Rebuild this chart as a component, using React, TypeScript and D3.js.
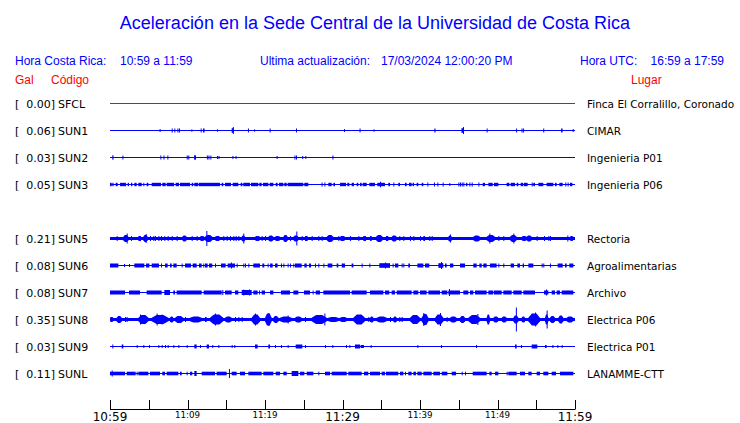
import React from "react";
import * as d3 from "d3";

// ---------- DATA ----------
const title = "Aceleración en la Sede Central de la Universidad de Costa Rica";
const localRange = "10:59 a 11:59";
const utcRange = "16:59 a 17:59";
const updated = "17/03/2024 12:00:20 PM";

// row slots (SUN4 slot exists but has no trace)
const slots = ["SFCL", "SUN1", "SUN2", "SUN3", "SUN4", "SUN5", "SUN6", "SUN7", "SUN8", "SUN9", "SUNL"];
const codes = ["SFCL", "SUN1", "SUN2", "SUN3", "SUN5", "SUN6", "SUN7", "SUN8", "SUN9", "SUNL"];
const peakGal = [0.0, 0.06, 0.03, 0.05, 0.21, 0.08, 0.08, 0.35, 0.03, 0.11];
const places = [
  "Finca El Corralillo, Coronado",
  "CIMAR",
  "Ingenieria P01",
  "Ingenieria P06",
  "Rectoria",
  "Agroalimentarias",
  "Archivo",
  "Electrica P06",
  "Electrica P01",
  "LANAMME-CTT",
];
// continuous background amplitude of each trace (relative units)
const baseAmp = [0.5, 0.6, 0.6, 0.6, 1.7, 0.6, 0.6, 1.8, 0.6, 0.6];
// burst envelope style: true = tapered (spindle) bursts, false = flat blocks
const taperedBursts = [false, false, false, false, true, false, false, true, false, false];

// minutes after 10:59 for tick marks and labels
const tickMinutes = [0, 5, 10, 15, 20, 25, 30, 35, 40, 45, 50, 55, 60];
const labelMinutes = [0, 10, 20, 30, 40, 50, 60];
const tickLabels = ["10:59", "11:09", "11:19", "11:29", "11:39", "11:49", "11:59"];
const bigLabels = ["10:59", "11:29", "11:59"];

// bursts: [startMinute, endMinute, amplitude]
const sfclBursts: number[][] = [];
const sun1Bursts = [
  [6.4, 6.4, 1.5], [7.96, 7.96, 2], [8.3, 8.3, 2], [8.7, 8.7, 2], [8.9, 8.9, 2], [10.5, 10.5, 1.2],
  [11.7, 11.7, 2], [12.0, 12.2, 2], [13.8, 13.8, 1.2], [15.7, 15.95, 2.3], [15.85, 15.85, 3.5],
  [17.8, 17.8, 2], [18.6, 18.6, 1.2], [20.6, 20.6, 2], [24.0, 24.0, 2], [30.2, 30.2, 1.5],
  [32.2, 32.2, 2], [34.0, 34.0, 1.2], [41.85, 42.0, 2], [45.35, 45.6, 2.3], [45.55, 45.55, 3.5],
  [48.6, 48.7, 2], [52.4, 52.4, 2], [53.1, 53.1, 2], [53.3, 53.3, 2], [55.9, 55.9, 2],
  [58.2, 58.4, 2], [59.7, 59.7, 1.5],
];
const sun2Bursts = [
  [0.3, 0.45, 2.2], [1.6, 1.6, 2], [6.5, 6.5, 2], [6.9, 6.9, 2], [7.4, 7.4, 2], [9.9, 9.9, 2],
  [10.1, 10.1, 2], [10.85, 11.1, 2.2], [12.5, 12.5, 2], [12.7, 12.7, 2], [12.95, 13.05, 2],
  [13.8, 13.8, 1.5], [14.0, 14.0, 1.5], [15.8, 15.8, 1.5], [16.2, 16.2, 1.5], [21.5, 21.5, 1.5],
  [23.8, 23.8, 2], [24.0, 24.0, 2], [24.8, 24.8, 1.5], [25.2, 25.2, 1.5], [28.7, 28.7, 2],
];
const sun3Bursts = [
  [0, 0.22, 1.7], [0.3, 0.47, 1.7], [0.73, 0.99, 1.7], [1.29, 2.06, 1.7], [2.28, 2.45, 1.7],
  [2.71, 2.88, 1.7], [3.14, 3.44, 1.7], [3.66, 4.09, 1.7], [4.3, 4.43, 1.7], [4.73, 4.95, 1.7],
  [5.38, 6.58, 1.7], [6.75, 7.18, 1.7], [7.31, 8.26, 1.7], [8.47, 8.9, 1.7], [9.03, 10.32, 1.7],
  [10.54, 10.75, 1.7], [10.88, 11.4, 1.7], [11.48, 14.19, 1.7], [14.41, 14.62, 1.7],
  [14.84, 15.61, 1.7], [15.83, 16.56, 1.7], [16.86, 17.08, 1.7], [17.2, 18.06, 1.7],
  [18.19, 19.14, 1.7], [19.27, 19.57, 1.7], [19.74, 20.43, 1.7], [20.6, 21.08, 1.7],
  [21.38, 21.63, 1.7], [21.81, 22.37, 1.7], [22.49, 22.8, 1.7], [22.92, 24.95, 1.7],
  [25.07, 25.59, 1.7], [27.3, 27.3, 2], [27.66, 27.66, 2], [28.17, 28.6, 1.7], [28.82, 29.03, 1.7],
  [29.68, 30.45, 1.7], [30.62, 30.88, 1.7], [31.18, 31.48, 1.7], [31.83, 32.04, 1.7],
  [32.26, 32.47, 1.7], [32.6, 33.12, 1.7], [33.46, 34.19, 1.7], [34.49, 35.48, 1.7],
  [34.84, 34.84, 2.8], [35.91, 36.13, 1.7], [36.56, 36.56, 2], [37.2, 37.42, 1.7],
  [38.06, 38.28, 1.7], [38.58, 38.92, 1.7], [39.05, 39.23, 1.7], [39.57, 39.78, 1.7],
  [40.22, 40.43, 1.7], [40.95, 40.95, 2], [41.81, 41.81, 2], [42.24, 42.24, 2], [42.92, 42.92, 2],
  [43.78, 43.78, 1.5], [44.95, 44.95, 2], [45.16, 45.16, 2], [45.38, 45.38, 2], [45.59, 45.59, 2],
  [45.94, 46.11, 1.7], [46.37, 46.37, 2], [46.67, 46.67, 2], [47.53, 47.53, 2], [48.09, 48.39, 1.7],
  [48.82, 49.38, 1.7], [49.55, 50.11, 1.7], [51.18, 51.53, 1.7], [51.7, 52.26, 1.7],
  [52.47, 52.69, 1.7], [52.99, 53.33, 1.7], [53.42, 53.89, 1.7], [54.41, 54.41, 2],
  [54.62, 54.84, 1.7], [55.27, 55.91, 1.7], [56.34, 57.2, 1.7], [57.42, 57.63, 1.7],
  [57.98, 58.41, 1.7], [58.75, 58.75, 2], [59.05, 59.05, 2], [59.35, 59.66, 1.7],
];
const sun5Bursts = [
  [0.86, 0.86, 2.5], [1.72, 2.37, 3.5], [2.15, 2.15, 5], [2.71, 2.71, 2.5], [3.66, 4.0, 2.5],
  [4.3, 4.86, 3.5], [4.6, 4.6, 4.5], [5.16, 5.16, 2.5], [5.59, 5.59, 2.5], [5.8, 5.8, 2.5],
  [6.24, 6.24, 2.5], [6.58, 6.58, 2.5], [7.01, 7.01, 2.5], [7.44, 7.44, 2.5], [7.96, 7.96, 2.5],
  [8.6, 8.6, 2.5], [9.33, 9.89, 3], [10.54, 10.54, 2.5], [11.18, 11.18, 2.5], [11.61, 12.17, 2.5],
  [12.26, 13.2, 3.5], [12.43, 12.43, 7.5], [13.55, 14.19, 2.5], [14.62, 14.62, 2.5],
  [15.05, 15.05, 2.5], [15.48, 15.48, 2.5], [15.91, 15.91, 2.5], [16.22, 16.22, 2.5],
  [16.56, 16.56, 2.5], [16.99, 17.42, 3], [17.2, 17.2, 5], [18.71, 19.35, 2.5], [19.57, 19.57, 2.5],
  [20.0, 20.0, 2.5], [20.43, 21.08, 3], [21.29, 21.94, 2.5], [22.37, 22.92, 3.5], [23.23, 23.23, 2.5],
  [23.66, 24.3, 3], [24.04, 24.04, 7], [24.73, 24.73, 2.5], [25.16, 25.5, 2.5], [26.02, 26.02, 2.5],
  [26.88, 26.88, 2.5], [27.31, 27.31, 2.5], [27.96, 28.82, 3.5], [29.46, 29.46, 2.5],
  [29.68, 30.32, 2.5], [30.97, 30.97, 2.5], [32.04, 32.04, 2.5], [32.69, 33.03, 2.5],
  [33.55, 33.76, 2.5], [34.32, 35.18, 3.5], [35.61, 35.91, 2.5], [36.34, 36.99, 3],
  [37.33, 37.33, 2.5], [37.85, 37.85, 2.5], [38.71, 38.71, 2.5], [39.14, 39.14, 2.5],
  [40.0, 40.0, 2.5], [40.43, 40.65, 2.5], [41.2, 41.2, 2.5], [41.51, 41.51, 2.5], [43.66, 44.09, 3],
  [43.87, 43.87, 4], [46.88, 47.74, 3], [48.6, 49.68, 3.5], [48.95, 48.95, 5], [50.11, 50.11, 2.5],
  [50.75, 50.75, 2.5], [51.61, 52.47, 3.5], [52.04, 52.04, 5], [53.12, 53.76, 2.5], [53.76, 54.41, 3],
  [55.05, 55.05, 2.5], [56.0, 56.0, 2.5], [56.56, 56.56, 2.5], [56.77, 56.77, 2.5], [59.01, 59.01, 3],
  [59.35, 59.78, 2.5],
];
const sun6Bursts = [
  [0, 1.08, 2], [1.81, 1.81, 1.5], [2.45, 2.45, 1.5], [3.14, 4.43, 2], [4.65, 5.08, 2], [5.38, 6.32, 2],
  [6.58, 6.58, 2], [7.1, 7.44, 2], [7.74, 7.96, 2], [8.17, 8.6, 2], [9.25, 9.25, 2], [9.68, 10.45, 2],
  [10.67, 11.18, 2], [11.48, 11.83, 2], [12.04, 12.04, 2], [12.26, 12.6, 2], [12.77, 13.2, 2],
  [13.55, 13.55, 2], [14.32, 14.92, 2], [15.18, 16.13, 2], [15.61, 15.61, 3], [16.34, 16.34, 2],
  [17.2, 17.2, 2], [17.42, 17.42, 2], [17.85, 17.85, 2], [18.49, 19.35, 2], [19.66, 19.91, 2],
  [20.34, 20.34, 2], [20.65, 20.99, 2], [21.29, 21.63, 2], [22.06, 22.06, 2], [22.37, 22.37, 2],
  [22.92, 22.92, 2], [23.23, 23.23, 2], [23.66, 23.66, 2], [23.87, 24.73, 2], [25.08, 25.38, 2],
  [25.68, 25.94, 2], [26.45, 26.45, 2], [26.88, 26.88, 2], [27.53, 27.53, 2], [28.09, 28.69, 2],
  [29.25, 29.46, 2], [29.9, 30.32, 2], [31.18, 31.4, 2], [32.47, 32.47, 2], [33.46, 33.46, 2],
  [34.75, 36.13, 2.3], [35.48, 35.48, 3], [36.47, 36.47, 2], [36.77, 37.2, 2], [37.63, 37.63, 2],
  [37.85, 37.85, 2], [38.49, 38.71, 2], [39.66, 40.43, 2], [40.65, 41.2, 2], [42.37, 43.01, 2.3],
  [42.71, 42.71, 3.5], [43.23, 43.44, 2], [43.87, 44.3, 2], [45.16, 45.81, 2], [46.88, 47.31, 2],
  [47.66, 47.96, 2], [48.17, 48.6, 2], [49.03, 49.89, 2], [50.11, 50.11, 2], [50.75, 50.75, 2],
  [51.7, 52.13, 2], [52.56, 52.9, 2], [53.25, 53.42, 2], [53.98, 54.62, 2], [55.7, 55.7, 2],
  [55.91, 55.91, 2], [56.77, 56.77, 2], [57.76, 58.41, 2], [58.71, 58.92, 2], [59.27, 59.78, 2],
];
const sun7Bursts = [
  [0, 1.94, 2], [2.45, 3.87, 2], [4.73, 6.67, 2], [7.01, 7.74, 2.5], [8.17, 8.39, 2], [8.6, 11.83, 2],
  [12.09, 14.41, 2], [14.49, 14.49, 2.5], [14.84, 15.7, 2], [16.13, 16.56, 2], [16.99, 18.28, 2.5],
  [17.2, 17.2, 3], [17.94, 17.94, 3], [18.49, 19.05, 2], [19.23, 19.23, 2], [19.57, 20.0, 2],
  [20.65, 21.08, 2], [22.06, 23.23, 2], [23.66, 24.3, 2], [25.03, 25.81, 2], [26.15, 26.15, 2],
  [26.54, 27.1, 2], [27.53, 30.97, 2], [31.18, 33.12, 2], [33.55, 35.27, 2], [35.48, 36.04, 2],
  [36.34, 36.77, 2], [36.99, 38.92, 2], [39.14, 39.78, 2], [40.0, 40.86, 2], [41.08, 42.58, 2],
  [42.8, 43.53, 2], [43.66, 45.16, 2], [43.74, 43.74, 3.5], [45.59, 46.24, 2], [46.45, 46.88, 2],
  [47.1, 48.6, 2], [48.82, 49.46, 2], [49.55, 50.54, 2], [50.75, 51.83, 2], [52.04, 53.12, 2],
  [53.33, 54.84, 2], [56.0, 56.56, 2], [56.26, 56.26, 3], [56.99, 57.42, 2], [57.63, 58.06, 2],
  [58.28, 59.78, 2],
];
const sun8Bursts = [
  [0, 0.43, 2.5], [0.86, 1.51, 3.5], [1.94, 1.94, 2.5], [2.15, 2.15, 2.5], [3.66, 4.95, 4.5],
  [3.87, 3.87, 5], [5.38, 7.53, 4.5], [6.02, 6.02, 6], [6.67, 6.67, 5], [7.74, 8.17, 3],
  [8.39, 9.46, 3.5], [9.68, 9.68, 2.5], [10.32, 11.83, 3], [12.26, 12.47, 2.5], [12.9, 14.62, 5],
  [13.55, 13.55, 6], [14.84, 15.7, 3], [16.13, 16.13, 2.5], [16.56, 16.56, 2.5], [16.99, 16.99, 2.5],
  [18.28, 19.35, 5], [18.71, 18.71, 6], [20.0, 20.86, 6], [20.43, 20.43, 6.5], [21.08, 21.72, 3.5],
  [21.94, 23.44, 3], [22.92, 22.92, 4], [23.87, 24.73, 3], [25.16, 25.16, 2.5], [26.02, 27.96, 4.5],
  [27.66, 27.66, 6], [28.17, 29.46, 2.5], [29.68, 30.54, 2.5], [31.4, 32.9, 5], [33.33, 33.33, 2.5],
  [33.55, 33.98, 3], [34.41, 35.7, 3], [36.13, 36.13, 2.5], [36.56, 36.99, 3], [37.33, 37.33, 2.5],
  [37.63, 37.63, 2.5], [38.71, 40.0, 4.5], [40.22, 41.08, 5.5], [40.43, 40.43, 6.5],
  [41.94, 43.01, 5], [42.58, 42.58, 6.5], [43.44, 43.44, 2.5], [43.87, 44.73, 3], [45.16, 45.81, 3.5],
  [46.24, 47.74, 4.5], [47.4, 47.4, 5.5], [48.6, 49.03, 5], [49.46, 50.11, 3], [50.54, 51.18, 3],
  [52.04, 52.69, 4], [52.37, 52.37, 12], [53.12, 53.55, 3], [53.98, 55.48, 6], [54.84, 54.84, 7],
  [56.13, 56.56, 5], [56.34, 56.34, 9], [56.77, 57.42, 3.5], [57.85, 58.49, 4], [58.92, 59.78, 3],
];
const sun9Bursts = [
  [0.3, 0.3, 2], [1.51, 1.72, 2], [3.44, 3.44, 1.5], [4.3, 4.3, 1.5], [5.03, 5.03, 1.5],
  [6.24, 6.24, 1.5], [6.67, 6.67, 1.5], [7.1, 7.1, 1.5], [7.44, 7.44, 1.5], [8.17, 8.17, 1.5],
  [8.82, 8.82, 1.5], [9.89, 9.89, 1.5], [10.88, 11.18, 2], [11.61, 11.61, 1.5], [12.47, 12.77, 2],
  [13.2, 13.2, 1.5], [13.98, 13.98, 1.5], [15.7, 15.7, 1.5], [16.04, 16.04, 1.5], [18.71, 19.05, 2],
  [20.43, 20.65, 2], [21.29, 21.29, 1.5], [22.06, 22.06, 1.5], [22.92, 22.92, 1.5],
  [23.96, 24.82, 2], [25.16, 25.16, 1.5], [27.74, 27.74, 1.5], [28.69, 28.69, 1.5],
  [30.45, 30.45, 1.5], [30.88, 30.88, 1.5], [31.61, 32.26, 2], [32.34, 32.77, 1.5],
  [33.63, 33.63, 1.5], [39.66, 39.66, 1.5], [42.71, 42.71, 1.5], [47.23, 47.23, 1.5],
  [52.26, 52.47, 2], [53.03, 53.03, 1.5], [54.41, 55.14, 2], [56.13, 56.34, 1.5],
  [57.08, 57.08, 1.5], [57.72, 57.72, 1.5], [58.28, 58.28, 1.5],
];
const sunlBursts = [
  [0, 1.94, 1.8], [0.22, 0.22, 3], [2.15, 3.31, 1.8], [3.44, 3.44, 1.8], [3.66, 4.95, 1.8],
  [5.16, 6.45, 1.8], [6.75, 7.1, 1.8], [7.31, 8.82, 1.8], [9.03, 9.25, 1.8], [9.89, 9.89, 1.8],
  [10.32, 10.62, 1.8], [10.88, 11.18, 2.5], [11.83, 13.55, 1.8], [13.76, 15.05, 1.8],
  [15.35, 15.35, 4.5], [15.7, 16.34, 1.8], [16.77, 17.42, 1.8], [17.85, 19.57, 1.8],
  [19.78, 21.08, 1.8], [21.38, 21.94, 1.8], [22.37, 22.8, 1.8], [23.44, 24.3, 2.5],
  [24.52, 25.08, 1.8], [25.38, 26.24, 1.8], [26.88, 26.88, 1.8], [27.74, 28.39, 1.8],
  [28.6, 30.54, 1.8], [30.75, 32.47, 1.8], [32.77, 33.33, 1.8], [33.55, 34.84, 1.8],
  [35.05, 35.48, 1.8], [35.61, 37.2, 1.8], [37.42, 37.85, 1.8], [38.06, 38.06, 1.8],
  [38.49, 38.92, 1.8], [39.14, 39.48, 1.8], [39.66, 40.22, 1.8], [40.43, 41.51, 1.8],
  [41.72, 42.58, 1.8], [42.8, 43.53, 1.8], [44.09, 44.65, 1.8], [45.38, 45.38, 1.8],
  [45.81, 45.81, 1.8], [46.8, 48.6, 1.8], [48.95, 49.25, 1.8], [49.68, 50.11, 1.8],
  [51.18, 51.18, 1.8], [51.4, 52.47, 1.8], [52.9, 53.55, 1.8], [53.98, 54.41, 1.8],
  [55.05, 55.48, 1.8], [55.91, 56.56, 1.8], [56.99, 57.55, 1.8], [58.06, 59.78, 1.8],
];
const bursts = [
  sfclBursts, sun1Bursts, sun2Bursts, sun3Bursts, sun5Bursts,
  sun6Bursts, sun7Bursts, sun8Bursts, sun9Bursts, sunlBursts,
];
const traceColors = ["#ff0000", "#0000ff", "#0000ff", "#0000ff", "#0000ff", "#0000ff", "#0000ff", "#0000ff", "#0000ff", "#0000ff"];

// ---------- CHART ----------
const W = 740;
const H = 423;
const sans = "'Liberation Sans', Arial, sans-serif";
const dejavu = "'DejaVu Sans', sans-serif";

export default function App() {
  const x = d3.scaleLinear().domain([0, 60]).range([110, 575]);
  const y = d3.scalePoint<string>().domain(slots).range([103.5, 373.5]);
  const amp = d3.scaleLinear().domain([0, 12]).range([0, 12]);

  const burstMark = (d: number[], k: number, cy: number, b: number, tapered: boolean) => {
    const x0 = x(d[0]);
    const w = Math.max(x(d[1]) - x0, 1);
    const a = amp(d[2]);
    if (!tapered || w < 3) {
      return <rect key={k} x={x0} width={w} y={cy - a} height={2 * a} />;
    }
    const bb = amp(b);
    const x1 = x0 + w;
    const m0 = x0 + w * 0.3;
    const m1 = x0 + w * 0.7;
    const pts = [
      [x0, cy - bb], [m0, cy - a], [m1, cy - a], [x1, cy - bb],
      [x1, cy + bb], [m1, cy + a], [m0, cy + a], [x0, cy + bb],
    ];
    return <path key={k} d={d3.line()(pts as [number, number][]) + "Z"} />;
  };

  return (
    <svg
      width={W}
      height={H}
      style={{ position: "absolute", left: 0, top: 0, background: "#fff" }}
    >
      <rect x={0} y={0} width={W} height={H} fill="#fff" />
      <text x={375} y={29} textAnchor="middle" fill="#0000ff" fontFamily={sans} fontSize={18}>
        {title}
      </text>
      <g fontFamily={sans} fontSize={12} fill="#0000ff">
        <text x={15} y={65}>Hora Costa Rica:</text>
        <text x={120} y={65}>{localRange}</text>
        <text x={260} y={65}>Ultima actualización:</text>
        <text x={381} y={65}>{updated}</text>
        <text x={580} y={65}>Hora UTC:</text>
        <text x={724} y={65} textAnchor="end">{utcRange}</text>
      </g>
      <g fontFamily={sans} fontSize={12} fill="#ff0000">
        <text x={15} y={84}>Gal</text>
        <text x={51} y={84}>Código</text>
        <text x={631} y={84}>Lugar</text>
      </g>

      {codes.map((c, i) => {
        const cy = y(c) as number;
        const b = baseAmp[i];
        const col = traceColors[i];
        return (
          <g key={c}>
            <g fontFamily={dejavu} fontSize={11} fill="#000">
              <text x={15} y={cy + 4}>[</text>
              <text x={55} y={cy + 4} textAnchor="end">{peakGal[i].toFixed(2) + "]"}</text>
              <text x={58} y={cy + 4}>{c}</text>
            </g>
            <text x={587} y={cy + 4} fontFamily={dejavu} fontSize={10.5} fill="#000">
              {places[i]}
            </text>
            <g fill={col}>
              <rect
                x={x(0)}
                width={x(60) - x(0)}
                y={cy - Math.max(amp(b), 0.5)}
                height={Math.max(2 * amp(b), 1)}
                shapeRendering="crispEdges"
              />
              {bursts[i].map((d, k) => burstMark(d, k, cy, b, taperedBursts[i]))}
            </g>
          </g>
        );
      })}

      <g>
        <line x1={x(0)} x2={x(60)} y1={409.5} y2={409.5} stroke="#000" strokeWidth={1} />
        {tickMinutes.map((m) => (
          <line key={m} x1={Math.round(x(m)) + 0.5} x2={Math.round(x(m)) + 0.5} y1={400} y2={409.5} stroke="#000" strokeWidth={1} />
        ))}
        {labelMinutes.map((m, i) => {
          const big = bigLabels.includes(tickLabels[i]);
          return (
            <text
              key={m}
              x={x(m)}
              y={big ? 421 : 418}
              textAnchor="middle"
              fontFamily={dejavu}
              fontSize={big ? 12 : 8.7}
              fill="#000"
            >
              {tickLabels[i]}
            </text>
          );
        })}
      </g>
    </svg>
  );
}
